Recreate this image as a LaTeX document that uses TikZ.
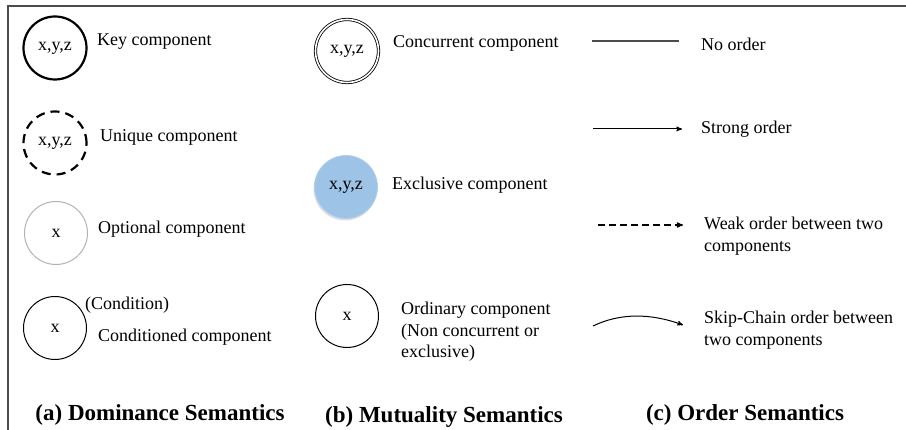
\documentclass[tikz,border=0pt]{standalone}
\usepackage{fontspec}
\setmainfont{Liberation Serif}
\usetikzlibrary{arrows,shadows}
\definecolor{exblue}{RGB}{157,195,230}

\begin{document}
\begin{tikzpicture}[x=1pt,y=-1pt,>=stealth',
                    every node/.style={font=\fontsize{18}{21.5}\selectfont},
                    comp/.style={circle,draw,minimum size=63pt,inner sep=0pt},
                    lbl/.style={anchor=west,align=left,inner sep=0pt},
                    head/.style={font=\fontsize{23}{27}\selectfont\bfseries,inner sep=0pt}]
  \useasboundingbox (0,0) rectangle (906,430);
  \draw[black!70,line width=1.6pt] (8,430) -- (8,6) -- (906,6);

  % (a) dominance
  \node[comp,line width=2.2pt] (key) at (55,48) {x,y,z};
  \node[lbl] (keylbl) at (97,42) {Key component};
  \node[comp,line width=2.2pt,dash pattern=on 9pt off 6pt] (uniq) at (55,143) {x,y,z};
  \node[lbl] (uniqlbl) at (100,137) {Unique component};
  \node[comp,draw=black!30,line width=1pt] (opt) at (56,233) {x};
  \node[lbl] (optlbl) at (98,229) {Optional component};
  \node[comp,line width=1pt] (cond) at (55,328) {x};
  \node[lbl] (condtxt) at (85,305) {(Condition)};
  \node[lbl] (condlbl) at (98,337) {Conditioned component};
  \node[head] (heada) at (160,415) {(a) Dominance Semantics};

  % (b) mutuality
  \node[comp,line width=0.8pt,double,double distance=1.6pt] (conc) at (347,51) {x,y,z};
  \node[lbl] (conclbl) at (393,43) {Concurrent component};
  \node[comp,fill=exblue,draw=exblue!80!white,line width=0.8pt,
        drop shadow={opacity=0.25,shadow xshift=-1pt,shadow yshift=-2pt}] (excl) at (346,187) {x,y,z};
  \node[lbl] (excllbl) at (392,185) {Exclusive component};
  \node[comp,line width=1pt] (ord) at (347,316) {x};
  \node[lbl] (ordlbl) at (401,332) {Ordinary component\\(Non concurrent or\\exclusive)};
  \node[head] (headb) at (444,417) {(b) Mutuality Semantics};

  % (c) order
  \coordinate (no1) at (592,41);
  \coordinate (no2) at (679,41);
  \coordinate (st1) at (593,129);
  \coordinate (st2) at (682,129);
  \coordinate (wk1) at (598,225);
  \coordinate (wk2) at (683,225);
  \coordinate (sk1) at (593,326);
  \coordinate (sk2) at (683,325);
  \draw[black!70,line width=1.4pt] (no1) -- (no2);
  \draw[->,line width=1pt] (st1) -- (st2);
  \draw[->,line width=1.2pt,dash pattern=on 7pt off 4pt] (wk1) -- (wk2);
  \draw[->,line width=1pt] (sk1) .. controls (620,313) and (650,313) .. (sk2);
  \node[lbl] (nolbl) at (701,44) {No order};
  \node[lbl] (stlbl) at (701,129) {Strong order};
  \node[lbl] (wklbl) at (704,236) {Weak order between two\\components};
  \node[lbl] (sklbl) at (704,330) {Skip-Chain order between\\two components};
  \node[head] (headc) at (745,415) {(c) Order Semantics};
\end{tikzpicture}
\end{document}
